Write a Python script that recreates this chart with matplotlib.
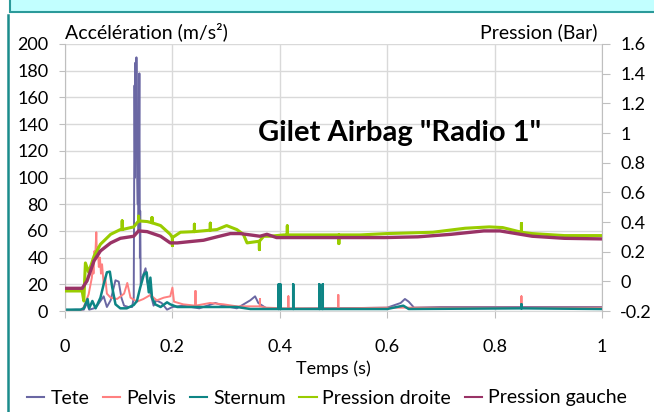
import matplotlib
import numpy as np

matplotlib.use("Agg")
import matplotlib.pyplot as plt
from matplotlib.lines import Line2D
from matplotlib.patches import Rectangle

# ---- data (time in s) ----
TETE_T = [0, 0.02, 0.035, 0.041, 0.045, 0.054, 0.06, 0.072, 0.078, 0.085, 0.094, 0.1, 0.105, 0.11,
          0.118, 0.125, 0.128, 0.1295, 0.1305, 0.131, 0.1325, 0.133, 0.1345, 0.1355, 0.1365, 0.137,
          0.1385, 0.1395, 0.140, 0.141, 0.144, 0.150, 0.153, 0.158, 0.165, 0.17, 0.18, 0.19, 0.2,
          0.22, 0.25, 0.28, 0.295, 0.32, 0.345, 0.354, 0.36, 0.375, 0.4, 0.5, 0.6, 0.625, 0.633,
          0.64, 0.65, 0.7, 0.8, 0.9, 1.0]
TETE = [0.5, 1, 1, 6, 1, 2, 4, 11, 3, 8, 23, 22, 10, 4,
        3, 3, 10, 169, 100, 186, 120, 190, 98, 80, 130, 60,
        178, 40, 75, 20, 25, 32, 22, 15, 4, 8, 6, 1, 3,
        4, 2, 6, 4, 2, 8, 11, 6, 2, 1.5, 2, 2.5, 6, 9,
        7, 2.5, 3, 3, 3, 3]

PELVIS_T = [0, 0.03, 0.035, 0.044, 0.05, 0.052, 0.053, 0.055, 0.056, 0.0583, 0.0595, 0.061, 0.063,
            0.065, 0.067, 0.069, 0.072, 0.075, 0.078, 0.085, 0.097, 0.11, 0.116, 0.122, 0.134,
            0.146, 0.159, 0.171, 0.184, 0.196, 0.2, 0.203, 0.22, 0.243, 0.243, 0.243, 0.27, 0.295,
            0.32, 0.345, 0.363, 0.363, 0.363, 0.375, 0.41, 0.416, 0.416, 0.416, 0.509, 0.509,
            0.509, 0.6, 0.85, 0.85, 0.85, 1.0]
PELVIS = [0.5, 0.5, 3, 12.5, 25, 35, 28, 45, 38, 59, 40, 48, 33,
          40, 28, 35, 20, 25, 13, 10, 9, 13, 21, 10, 7,
          9, 12, 8, 10, 11, 17.5, 7, 5, 4, 15, 4, 6, 5,
          3.5, 3.5, 3.5, 9, 3.5, 2.5, 2, 2, 11, 2, 2, 12,
          2, 2.5, 2.5, 11, 2.5, 2.5]

STERNUM_T = [0, 0.029, 0.035, 0.042, 0.045, 0.051, 0.057, 0.066, 0.072, 0.078, 0.0835, 0.088, 0.094,
             0.103, 0.115, 0.128, 0.134, 0.14, 0.147, 0.152, 0.156, 0.159, 0.162, 0.168, 0.178, 0.19,
             0.196, 0.209, 0.233, 0.258, 0.283, 0.32, 0.345, 0.37, 0.398, 0.398, 0.398, 0.401, 0.401,
             0.401, 0.425, 0.425, 0.425, 0.4736, 0.4736, 0.4736, 0.48, 0.48, 0.48, 0.5, 0.6, 0.63,
             0.64, 0.85, 0.85, 0.85, 1.0]
STERNUM = [1, 1, 2, 9, 2, 7.5, 2, 10, 20, 29, 29.5, 17.5, 5,
           2, 2, 4.5, 7.5, 17.5, 27.5, 29, 14, 25, 10, 5, 3, 6.5,
           5, 3, 3, 3, 3, 3, 1.5, 1.5, 1.5, 20, 1.5, 1.5, 20,
           1.5, 1.5, 20, 1.5, 1.5, 20, 1.5, 1.5, 20, 1.5, 1.5, 1.5, 4,
           1.5, 2, 5, 2, 1.5]

DROITE_T = [0, 0.032, 0.035, 0.038, 0.044, 0.054, 0.066, 0.085, 0.103, 0.1065, 0.1065, 0.1065,
            0.128, 0.137, 0.137, 0.137, 0.153, 0.162, 0.162, 0.162, 0.178, 0.196, 0.2, 0.2, 0.2,
            0.215, 0.241, 0.241, 0.241, 0.2706, 0.2706, 0.2706, 0.283, 0.301, 0.32, 0.332, 0.339,
            0.357, 0.362, 0.362, 0.362, 0.37, 0.382, 0.407, 0.414, 0.414, 0.414, 0.51, 0.51, 0.51,
            0.55, 0.6, 0.685, 0.745, 0.79, 0.815, 0.85, 0.85, 0.85, 0.87, 0.93, 1.0]
DROITE = [-0.065, -0.065, -0.1325, 0.124, 0.061, 0.169, 0.25, 0.317, 0.349, 0.349, 0.4075, 0.349,
          0.367, 0.4075, 0.439, 0.4075, 0.403, 0.395, 0.43, 0.395, 0.376, 0.317, 0.295, 0.241, 0.295,
          0.331, 0.335, 0.385, 0.335, 0.345, 0.392, 0.345, 0.349, 0.376, 0.349, 0.3175, 0.259,
          0.268, 0.27, 0.214, 0.27, 0.304, 0.304, 0.313, 0.313, 0.374, 0.313, 0.313, 0.2545, 0.313,
          0.313, 0.322, 0.331, 0.358, 0.367, 0.3625, 0.331, 0.39, 0.331, 0.322, 0.3085, 0.3085]

GAUCHE_T = [0, 0.032, 0.041, 0.054, 0.066, 0.085, 0.103, 0.128, 0.137, 0.153, 0.178, 0.196, 0.209,
            0.233, 0.258, 0.283, 0.308, 0.326, 0.345, 0.363, 0.376, 0.394, 0.45, 0.53, 0.595, 0.657,
            0.719, 0.78, 0.81, 0.84, 0.87, 0.93, 1.0]
GAUCHE = [-0.047, -0.047, 0.003, 0.138, 0.205, 0.259, 0.29, 0.304, 0.34, 0.335, 0.304, 0.259, 0.259,
          0.268, 0.277, 0.30, 0.322, 0.322, 0.313, 0.304, 0.317, 0.295, 0.295, 0.295, 0.295, 0.30,
          0.317, 0.34, 0.34, 0.322, 0.304, 0.29, 0.286]

X_TICKS = [0, 0.2, 0.4, 0.6, 0.8, 1.0]
X_LABELS = ["0", "0.2", "0.4", "0.6", "0.8", "1"]
Y_TICKS = list(range(0, 201, 20))
Y2_TICKS = [-0.2, 0, 0.2, 0.4, 0.6, 0.8, 1.0, 1.2, 1.4, 1.6]
Y2_LABELS = ["-0.2", "0", "0.2", "0.4", "0.6", "0.8", "1", "1.2", "1.4", "1.6"]

COLORS = {
    "Tete": "#6A67A3",
    "Pelvis": "#FF8080",
    "Sternum": "#0E8585",
    "Pression droite": "#99CC00",
    "Pression gauche": "#993366",
}

plt.rcParams.update({"font.family": ["Lato", "DejaVu Sans"], "font.size": 13})

W, H = 654, 412
fig = plt.figure(figsize=(W / 100, H / 100), dpi=100)
ax = fig.add_axes([65 / W, 1 - 311 / H, (602 - 65) / W, (311 - 44) / H])
ax2 = ax.twinx()

GRID = "#D9D9D9"
SPINE = "#BFBFBF"

ax.plot(TETE_T, TETE, color=COLORS["Tete"], lw=1.4)
ax.plot(PELVIS_T, PELVIS, color=COLORS["Pelvis"], lw=1.4)
ax.plot(STERNUM_T, STERNUM, color=COLORS["Sternum"], lw=1.8)
ax2.plot(DROITE_T, DROITE, color=COLORS["Pression droite"], lw=2.2)
ax2.plot(GAUCHE_T, GAUCHE, color=COLORS["Pression gauche"], lw=2.4)

ax.set_xlim(0, 1)
ax.set_ylim(0, 200)
ax2.set_ylim(-0.2, 1.6)
ax.set_xticks(X_TICKS)
ax.set_xticklabels(X_LABELS)
ax.set_yticks(Y_TICKS)
ax2.set_yticks(Y2_TICKS)
ax2.set_yticklabels(Y2_LABELS)

ax.grid(True, color=GRID, lw=1.0)
ax.set_axisbelow(True)
for a in (ax, ax2):
    a.spines["top"].set_visible(False)
    for s in a.spines.values():
        s.set_color(SPINE)
ax.spines["right"].set_visible(False)
ax2.spines["left"].set_visible(False)
ax2.spines["bottom"].set_visible(False)
ax.spines["bottom"].set_color(GRID)

ax.tick_params(axis="y", length=4, color=SPINE, pad=8, labelsize=13)
ax.tick_params(axis="x", length=5, color=SPINE, pad=15, labelsize=13)
ax2.tick_params(axis="y", length=6, color=SPINE, pad=7, labelsize=13)

fig.text(65 / W, 1 - 32 / H, "Accélération (m/s²)", ha="left", va="center", fontsize=14)
fig.text(598 / W, 1 - 32 / H, "Pression (Bar)", ha="right", va="center", fontsize=14)
fig.text(400 / W, 1 - 133 / H, 'Gilet Airbag "Radio 1"', ha="center", va="center",
         fontsize=21, fontweight="bold")
fig.text(333 / W, 1 - 369 / H, "Temps (s)", ha="center", va="center", fontsize=13)

handles = [Line2D([], [], color=c, lw=1.5) for c in COLORS.values()]
fig.legend(handles, list(COLORS.keys()), loc="center", bbox_to_anchor=(327 / W, 1 - 398 / H),
           ncol=5, frameon=False, handlelength=0.9, handletextpad=0.3, columnspacing=0.7,
           fontsize=14, borderpad=0)

# frame decorations of the original sheet
fig.patches.append(Rectangle((10 / W, 1 - 12 / H), 1, 14 / H, transform=fig.transFigure,
                             facecolor="#C2FFFF", edgecolor="#2B9A9A", lw=1.5))
fig.lines.append(Line2D([8 / W, 8 / W], [0, 1 - 15 / H], transform=fig.transFigure,
                        color="#1A8C8C", lw=1.8))

fig.savefig("out.png", dpi=100)
